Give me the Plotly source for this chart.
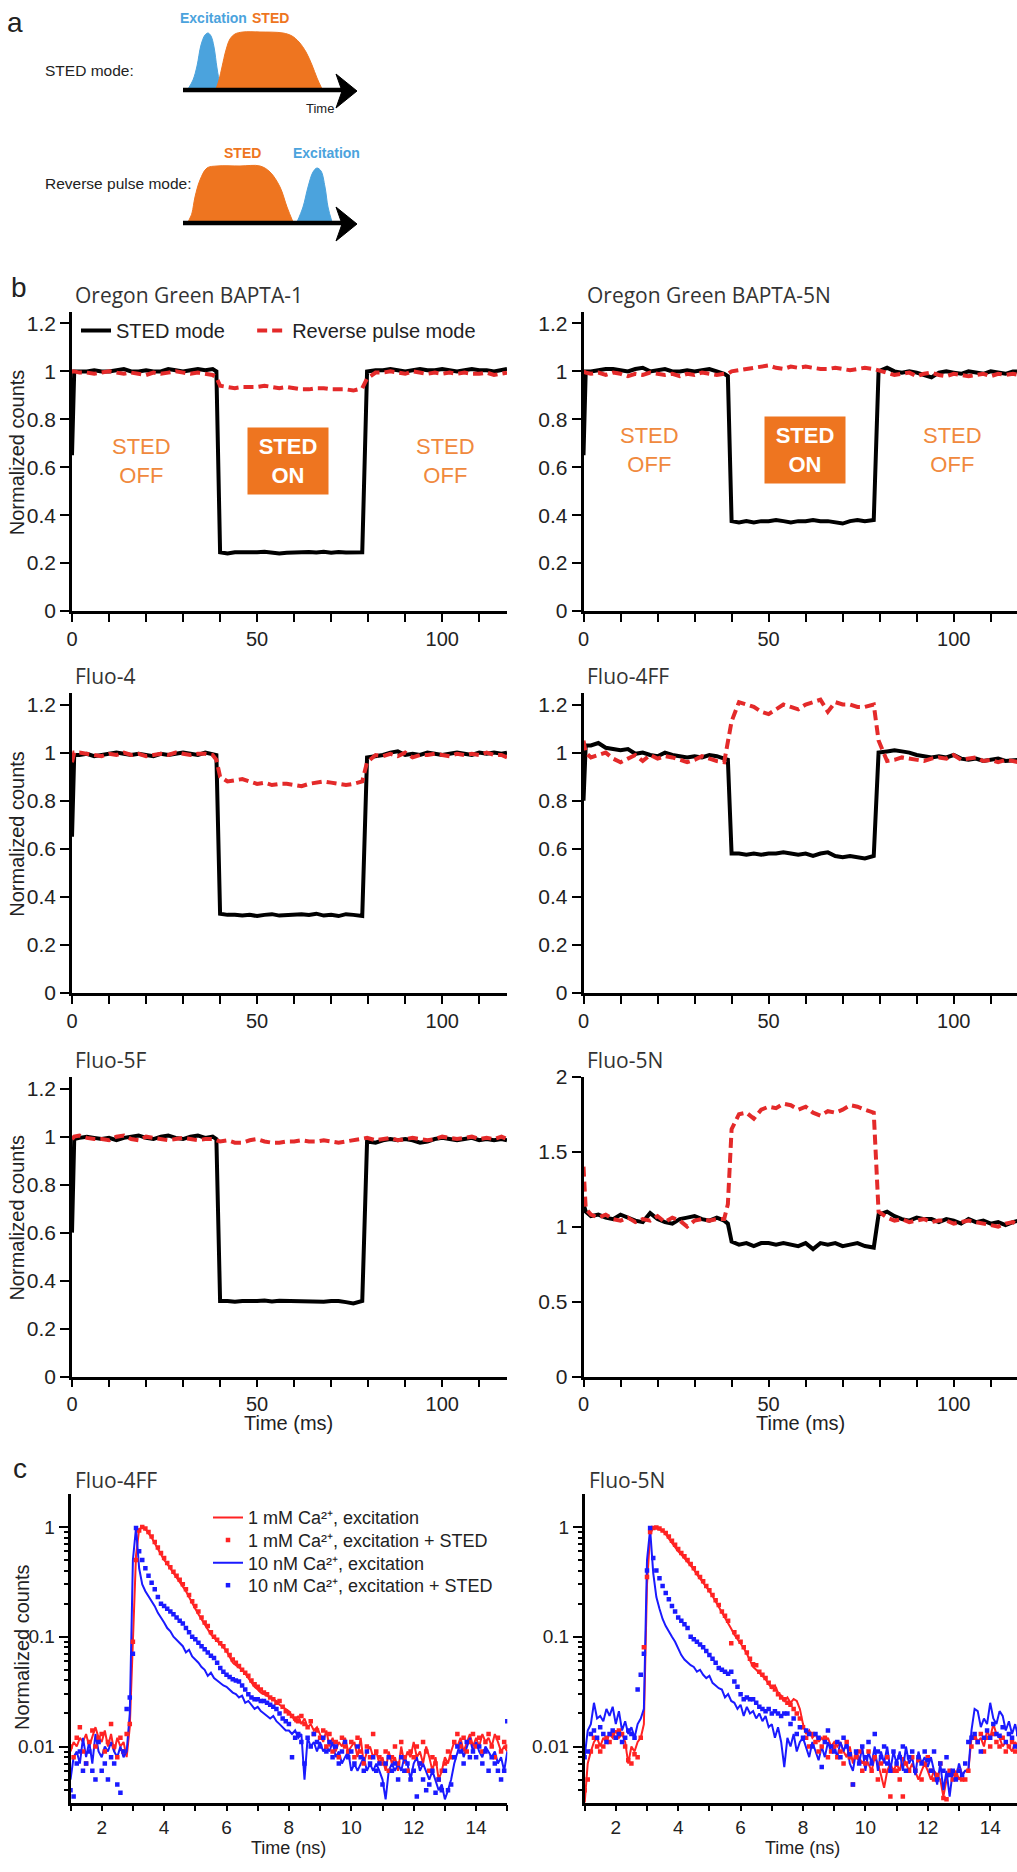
import plotly.graph_objects as go

W, H = 1017, 1872
FONT = "Liberation Sans, Arial, sans-serif"
NARROW = "Liberation Sans, Arial, sans-serif"
TITLE_FONT = "Open Sans, sans-serif"
TXT = "#222222"
BLUE_A = "#4BA3DD"
ORANGE_A = "#EE7520"
STED_OFF_C = "#F0893D"
RED_B = "#E42A2A"
RED_C = "#FF2323"
BLUE_C = "#1A1AFF"

# ---------------- panel a (schematic pulse shapes, pixel units) ----------------
EXC1_X = [188, 193, 197, 201, 205, 208, 211, 214, 217, 220, 222]
EXC1_Y = [89, 80, 66, 45, 35, 33, 36, 47, 68, 84, 89]
STED1_X = [216, 219, 222, 226, 230, 235, 243, 260, 283, 292, 299, 306, 312, 317, 322]
STED1_Y = [89, 80, 67, 50, 39, 34, 32, 32, 33, 36, 42, 52, 65, 78, 89]
STED2_X = [188, 190, 192, 195, 200, 207, 217, 240, 260, 270, 280, 287, 293]
STED2_Y = [222, 218, 213, 197, 180, 168, 166, 166, 166, 172, 187, 207, 222]
EXC2_X = [297, 303, 308, 313, 317, 321, 325, 328, 332]
EXC2_Y = [222, 207, 187, 172, 168, 171, 187, 207, 222]
ARROW1_X = [183, 343]
ARROW1_Y = [90, 90]
HEAD1_X = [336, 357, 336, 342, 336]
HEAD1_Y = [74, 91, 108, 91, 74]
ARROW2_X = [183, 343]
ARROW2_Y = [223, 223]
HEAD2_X = [336, 357, 336, 342, 336]
HEAD2_Y = [207, 224, 241, 224, 207]

# ---------------- panel b data ----------------
T_MS = [0, 0.6] + list(range(2, 39, 2)) + [39] + list(range(40, 77, 2)) + [78.4, 79.7] + list(range(82, 117, 2)) + [117.5]
MS_TICKS = list(range(0, 111, 10))
MS_LABELS = ["0", "", "", "", "", "50", "", "", "", "", "100", ""]

OGB1_STED = [0.65, 1.0, 1.0, 1.0, 1.005, 1.0, 1.0, 1.005, 1.01, 1.0, 1.0, 1.005, 1.0, 1.0, 1.01, 1.005, 1.0, 1.005, 1.01, 1.005, 1.01,
             1.0,
             0.245, 0.24, 0.245, 0.245, 0.243, 0.245, 0.247, 0.244, 0.24, 0.243, 0.245, 0.243, 0.246, 0.244, 0.247, 0.243, 0.246, 0.244, 0.245, 0.245,
             1.0, 1.005, 1.005, 1.01, 1.005, 1.0, 1.005, 1.01, 1.005, 1.005, 1.01, 1.005, 1.0, 1.005, 1.01, 1.005, 1.005, 1.0, 1.005, 1.01]
OGB1_REV = [1.0, 1.0, 0.995, 0.995, 0.99, 0.995, 1.0, 0.995, 0.99, 0.995, 0.99, 0.985, 0.995, 0.99, 0.995, 1.0, 0.995, 0.99, 0.995, 0.99, 0.985,
            0.975,
            0.94, 0.935, 0.93, 0.935, 0.935, 0.935, 0.94, 0.935, 0.93, 0.935, 0.93, 0.925, 0.925, 0.93, 0.93, 0.925, 0.925, 0.925, 0.92, 0.93,
            0.97, 0.995, 0.995, 1.0, 0.995, 0.99, 1.0, 0.995, 0.99, 0.995, 0.99, 0.995, 0.99, 0.995, 0.99, 0.99, 0.995, 0.985, 0.99, 0.995]
OGB5N_STED = [0.65, 1.0, 1.0, 1.005, 1.01, 1.01, 1.005, 1.0, 1.01, 1.015, 1.0, 1.005, 1.01, 1.0, 1.0, 1.005, 1.0, 1.005, 1.01, 1.0, 0.99,
              0.98,
              0.375, 0.37, 0.375, 0.37, 0.375, 0.375, 0.38, 0.375, 0.37, 0.375, 0.375, 0.38, 0.375, 0.375, 0.37, 0.365, 0.375, 0.38, 0.375, 0.38,
              1.0, 1.015, 1.0, 0.995, 1.0, 0.995, 0.985, 0.975, 0.995, 1.0, 0.995, 0.99, 1.0, 0.995, 0.99, 1.0, 0.995, 0.99, 1.0, 1.0]
OGB5N_REV = [1.0, 0.995, 0.99, 0.995, 0.985, 0.995, 0.99, 0.98, 0.99, 0.985, 0.995, 0.99, 0.985, 0.99, 0.98, 0.99, 0.985, 0.995, 0.99, 0.985, 0.99,
             0.99,
             1.0, 1.005, 1.01, 1.015, 1.02, 1.025, 1.015, 1.01, 1.02, 1.015, 1.02, 1.015, 1.01, 1.01, 1.015, 1.01, 1.005, 1.01, 1.015, 1.01,
             1.005, 0.995, 0.985, 0.99, 0.995, 0.98, 0.99, 0.995, 0.985, 0.98, 0.99, 0.985, 0.98, 0.985, 0.99, 0.98, 0.99, 0.985, 0.99, 0.985]
FLUO4_STED = [0.65, 0.99, 0.99, 0.995, 0.985, 0.99, 0.995, 1.0, 0.995, 0.99, 0.995, 0.99, 0.985, 0.995, 0.99, 0.995, 1.0, 0.995, 0.99, 1.0, 0.995,
              0.99,
              0.33, 0.325, 0.325, 0.322, 0.325, 0.32, 0.325, 0.328, 0.322, 0.325, 0.325, 0.328, 0.325, 0.33, 0.322, 0.325, 0.32, 0.328, 0.325, 0.32,
              0.98, 0.985, 0.99, 1.0, 1.005, 0.99, 0.995, 0.99, 1.0, 0.995, 0.99, 0.995, 1.0, 0.995, 0.99, 1.0, 0.995, 1.0, 0.995, 1.0]
FLUO4_REV = [0.96, 1.0, 1.0, 0.995, 0.99, 0.985, 0.995, 0.99, 1.0, 0.99, 0.995, 0.985, 0.99, 0.995, 0.99, 1.0, 0.995, 0.99, 0.995, 0.995, 0.99,
             0.97,
             0.9, 0.88, 0.885, 0.89, 0.88, 0.87, 0.875, 0.865, 0.87, 0.87, 0.865, 0.86, 0.87, 0.875, 0.88, 0.875, 0.87, 0.865, 0.87, 0.88,
             0.96, 0.99, 0.985, 0.995, 0.985, 1.0, 0.98, 0.99, 0.99, 0.995, 0.99, 0.985, 0.995, 0.99, 0.995, 0.99, 1.0, 0.99, 0.99, 0.98]
FLUO4FF_STED = [0.8, 1.03, 1.03, 1.04, 1.02, 1.015, 1.01, 1.015, 0.995, 1.0, 0.99, 0.985, 1.0, 0.99, 0.985, 0.98, 0.985, 0.98, 0.99, 0.985, 0.975,
                0.97,
                0.58, 0.58, 0.575, 0.58, 0.575, 0.58, 0.58, 0.585, 0.58, 0.575, 0.58, 0.57, 0.58, 0.585, 0.57, 0.565, 0.57, 0.565, 0.56, 0.57,
                1.0, 1.005, 1.01, 1.005, 1.0, 0.99, 0.985, 0.98, 0.985, 0.98, 0.99, 0.975, 0.97, 0.975, 0.965, 0.97, 0.975, 0.965, 0.97, 0.97]
FLUO4FF_REV = [1.05, 1.0, 0.98, 0.99, 1.0, 0.975, 0.96, 0.975, 0.99, 0.965, 0.99, 0.975, 0.985, 0.98, 0.97, 0.96, 0.97, 0.985, 0.975, 0.965, 0.96,
               1.05,
               1.13, 1.21, 1.2, 1.19, 1.17, 1.16, 1.18, 1.2, 1.19, 1.18, 1.2, 1.21, 1.22, 1.17, 1.21, 1.2, 1.2, 1.19, 1.19, 1.2,
               1.05, 0.965, 0.97, 0.98, 0.975, 0.97, 0.965, 0.975, 0.98, 0.975, 0.99, 0.97, 0.975, 0.98, 0.965, 0.97, 0.96, 0.97, 0.965, 0.96]
FLUO5F_STED = [0.6, 0.99, 0.995, 1.0, 0.995, 0.99, 0.995, 0.985, 0.995, 1.0, 1.005, 0.995, 0.99, 1.0, 1.005, 0.995, 0.99, 1.0, 1.005, 0.995, 1.0,
               0.99,
               0.315, 0.315, 0.312, 0.315, 0.313, 0.315, 0.317, 0.313, 0.316, 0.315, 0.317, 0.315, 0.313, 0.315, 0.312, 0.315, 0.315, 0.31, 0.305, 0.315,
               0.98, 0.975, 0.985, 0.99, 0.985, 0.99, 0.985, 0.975, 0.98, 0.99, 0.995, 0.99, 0.985, 0.99, 0.995, 0.985, 0.99, 0.985, 0.99, 0.985]
FLUO5F_REV = [0.99, 1.0, 1.005, 0.995, 0.99, 0.99, 0.985, 1.0, 1.005, 0.99, 0.985, 1.0, 0.995, 0.99, 0.985, 0.99, 0.995, 0.99, 0.985, 0.99, 0.99,
              0.985,
              0.98, 0.985, 0.975, 0.975, 0.985, 0.99, 0.98, 0.975, 0.975, 0.98, 0.98, 0.985, 0.98, 0.98, 0.985, 0.98, 0.975, 0.98, 0.985, 0.99,
              0.995, 0.985, 0.99, 0.995, 0.985, 0.99, 0.995, 0.99, 0.985, 0.99, 1.0, 0.995, 0.99, 0.995, 1.0, 0.99, 0.995, 0.99, 1.0, 0.99]
FLUO5N_STED = [1.15, 1.1, 1.07, 1.08, 1.06, 1.05, 1.08, 1.06, 1.04, 1.03, 1.09, 1.05, 1.03, 1.02, 1.05, 1.06, 1.07, 1.05, 1.04, 1.06, 1.04,
               1.02,
               0.9, 0.88, 0.89, 0.87, 0.89, 0.89, 0.88, 0.89, 0.88, 0.87, 0.89, 0.85, 0.89, 0.88, 0.89, 0.87, 0.88, 0.89, 0.87, 0.86,
               1.08, 1.1, 1.07, 1.05, 1.04, 1.06, 1.05, 1.05, 1.03, 1.05, 1.04, 1.02, 1.05, 1.03, 1.04, 1.02, 1.03, 1.01, 1.03, 1.04]
FLUO5N_REV = [1.4, 1.12, 1.08, 1.06, 1.08, 1.05, 1.04, 1.06, 1.03, 1.05, 1.04, 1.07, 1.03, 1.06, 1.04, 1.0, 1.04, 1.05, 1.04, 1.05, 1.05,
              1.15,
              1.65, 1.75, 1.76, 1.72, 1.78, 1.8, 1.79, 1.82, 1.81, 1.78, 1.8, 1.76, 1.74, 1.77, 1.76, 1.78, 1.81, 1.8, 1.78, 1.76,
              1.1, 1.06, 1.04, 1.05, 1.03, 1.04, 1.05, 1.03, 1.04, 1.04, 1.02, 1.03, 1.04, 1.03, 1.02, 1.01, 1.0, 1.02, 1.03, 1.01]

Y12_TICKS = [0, 0.2, 0.4, 0.6, 0.8, 1.0, 1.2]
Y12_LABELS = ["0", "0.2", "0.4", "0.6", "0.8", "1", "1.2"]
Y2_TICKS = [0, 0.5, 1.0, 1.5, 2.0]
Y2_LABELS = ["0", "0.5", "1", "1.5", "2"]

PANELS_B = [
    ("Oregon Green BAPTA-1", OGB1_STED, OGB1_REV, 1.25, Y12_TICKS, Y12_LABELS),
    ("Oregon Green BAPTA-5N", OGB5N_STED, OGB5N_REV, 1.25, Y12_TICKS, Y12_LABELS),
    ("Fluo-4", FLUO4_STED, FLUO4_REV, 1.25, Y12_TICKS, Y12_LABELS),
    ("Fluo-4FF", FLUO4FF_STED, FLUO4FF_REV, 1.25, Y12_TICKS, Y12_LABELS),
    ("Fluo-5F", FLUO5F_STED, FLUO5F_REV, 1.25, Y12_TICKS, Y12_LABELS),
    ("Fluo-5N", FLUO5N_STED, FLUO5N_REV, 2.0, Y2_TICKS, Y2_LABELS),
]
LEGEND_B = ["STED mode\u00a0\u00a0\u00a0\u00a0", "Reverse pulse mode"]

# ---------------- panel c data (0.1 ns bins) ----------------
T_NS = [round(1 + 0.1 * i, 1) for i in range(141)]
NS_TICKS = [2, 4, 6, 8, 10, 12, 14]
NS_MINOR = [1, 3, 5, 7, 9, 11, 13, 15]
LOG_TICKS = [0.01, 0.1, 1]
LOG_LABELS = ["0.01", "0.1", "1"]
LOG_MINOR = [0.004, 0.005, 0.006, 0.007, 0.008, 0.009,
             0.02, 0.03, 0.04, 0.05, 0.06, 0.07, 0.08, 0.09,
             0.2, 0.3, 0.4, 0.5, 0.6, 0.7, 0.8, 0.9]

F4FF_CA_EXC = [0.009, 0.011, 0.010, 0.012, 0.011, 0.013, 0.010, 0.012, 0.015, 0.012,
               0.011, 0.014, 0.010, 0.013, 0.009, 0.012, 0.010, 0.011, 0.008, 0.015,
               0.10, 0.55, 0.95, 1.0, 0.96, 0.88, 0.80, 0.71, 0.63, 0.56,
               0.50, 0.46, 0.42, 0.38, 0.35, 0.32, 0.29, 0.26, 0.23, 0.20,
               0.18, 0.16, 0.145, 0.13, 0.118, 0.105, 0.098, 0.092, 0.085, 0.08,
               0.074, 0.066, 0.058, 0.055, 0.052, 0.05, 0.046, 0.042, 0.039, 0.035,
               0.033, 0.031, 0.030, 0.029, 0.028, 0.027, 0.026, 0.024, 0.023, 0.022,
               0.021, 0.019, 0.017, 0.019, 0.016, 0.018, 0.015, 0.016, 0.014, 0.015,
               0.013, 0.011, 0.014, 0.010, 0.012, 0.009, 0.011, 0.010, 0.012, 0.009,
               0.010, 0.011, 0.008, 0.012, 0.007, 0.009, 0.010, 0.008, 0.009, 0.007,
               0.008, 0.006, 0.009, 0.007, 0.008, 0.006, 0.010, 0.007, 0.009, 0.008,
               0.011, 0.008, 0.009, 0.007, 0.010, 0.008, 0.006, 0.008, 0.005, 0.006,
               0.008, 0.007, 0.009, 0.011, 0.010, 0.012, 0.009, 0.011, 0.013, 0.010,
               0.012, 0.010, 0.013, 0.011, 0.012, 0.010, 0.013, 0.011, 0.009, 0.010,
               0.009]
F4FF_CA_STED = [0.010, 0.008, 0.012, 0.015, 0.009, 0.007, 0.011, 0.014, 0.010, 0.012,
                0.013, 0.009, 0.011, 0.016, 0.010, 0.008, 0.012, 0.009, 0.013, 0.016,
                0.09, 0.5, 0.93, 1.0, 0.97, 0.90, 0.82, 0.73, 0.65, 0.58,
                0.52, 0.47, 0.43, 0.39, 0.36, 0.33, 0.30, 0.27, 0.24, 0.21,
                0.19, 0.17, 0.15, 0.135, 0.125, 0.11, 0.10, 0.094, 0.087, 0.082,
                0.075, 0.068, 0.062, 0.058, 0.054, 0.05, 0.047, 0.044, 0.040, 0.037,
                0.035, 0.033, 0.031, 0.030, 0.028, 0.027, 0.025, 0.026, 0.023, 0.021,
                0.020, 0.019, 0.018, 0.017, 0.019, 0.016, 0.015, 0.017, 0.013, 0.014,
                0.012, 0.014, 0.010, 0.013, 0.009, 0.011, 0.008, 0.012, 0.010, 0.009,
                0.011, 0.008, 0.012, 0.009, 0.007, 0.010, 0.008, 0.013, 0.009, 0.008,
                0.007, 0.009, 0.006, 0.008, 0.010, 0.007, 0.011, 0.008, 0.006, 0.009,
                0.008, 0.010, 0.007, 0.011, 0.009, 0.006, 0.008, 0.007, 0.005, 0.006,
                0.007, 0.009, 0.008, 0.011, 0.013, 0.010, 0.012, 0.009, 0.011, 0.013,
                0.010, 0.012, 0.009, 0.011, 0.013, 0.010, 0.008, 0.012, 0.009, 0.011,
                0.010]
F4FF_LOW_EXC = [0.005, 0.008, 0.009, 0.007, 0.012, 0.008, 0.011, 0.007, 0.013, 0.009,
                0.008, 0.010, 0.009, 0.011, 0.009, 0.008, 0.010, 0.008, 0.009, 0.02,
                0.5, 0.98, 0.42, 0.30, 0.26, 0.235, 0.21, 0.19, 0.165, 0.15,
                0.135, 0.12, 0.112, 0.10, 0.094, 0.088, 0.082, 0.072, 0.076, 0.066,
                0.062, 0.058, 0.053, 0.05, 0.044, 0.047, 0.042, 0.04, 0.038, 0.036,
                0.035, 0.033, 0.031, 0.03, 0.028, 0.029, 0.025, 0.026, 0.024, 0.022,
                0.023, 0.021, 0.02, 0.019, 0.018, 0.019, 0.017, 0.016, 0.015, 0.014,
                0.014, 0.013, 0.014, 0.012, 0.013, 0.005, 0.012, 0.010, 0.011, 0.009,
                0.011, 0.009, 0.010, 0.009, 0.011, 0.008, 0.009, 0.007, 0.008, 0.009,
                0.006, 0.007, 0.006, 0.007, 0.008, 0.006, 0.007, 0.006, 0.007, 0.006,
                0.005, 0.0033, 0.006, 0.007, 0.006, 0.007, 0.006, 0.008, 0.007, 0.005,
                0.007, 0.008, 0.006, 0.007, 0.006, 0.005, 0.006, 0.005, 0.004, 0.0045,
                0.0033, 0.004, 0.005, 0.007, 0.009, 0.011, 0.008, 0.010, 0.012, 0.009,
                0.011, 0.009, 0.008, 0.010, 0.009, 0.008, 0.009, 0.007, 0.008, 0.006,
                0.009]
F4FF_LOW_STED = [0.004, 0.0035, 0.007, 0.009, 0.006, 0.007, 0.009, 0.006, 0.005, 0.011,
                 0.006, 0.007, 0.005, 0.008, 0.007, 0.0045, 0.0038, 0.009, 0.022, 0.028,
                 0.07, 0.98, 0.6, 0.5, 0.42, 0.36, 0.31, 0.27, 0.23, 0.20,
                 0.19, 0.18, 0.17, 0.16, 0.15, 0.14, 0.132, 0.12, 0.11, 0.10,
                 0.095, 0.088, 0.082, 0.077, 0.072, 0.067, 0.064, 0.058, 0.052, 0.048,
                 0.045, 0.043, 0.041, 0.040, 0.039, 0.036, 0.033, 0.030, 0.028, 0.027,
                 0.027, 0.026, 0.026, 0.025, 0.024, 0.023, 0.022, 0.020, 0.018, 0.017,
                 0.016, 0.008, 0.012, 0.013, 0.011, 0.007, 0.012, 0.010, 0.013, 0.011,
                 0.010, 0.012, 0.009, 0.011, 0.008, 0.010, 0.007, 0.009, 0.011, 0.008,
                 0.009, 0.007, 0.010, 0.008, 0.006, 0.009, 0.007, 0.008, 0.006, 0.007,
                 0.0045, 0.007, 0.008, 0.006, 0.007, 0.005, 0.008, 0.006, 0.007, 0.005,
                 0.006, 0.0035, 0.007, 0.005, 0.004, 0.0045, 0.006, 0.0038, 0.005, 0.004,
                 0.006, 0.004, 0.0045, 0.008, 0.010, 0.009, 0.007, 0.011, 0.008, 0.009,
                 0.008, 0.010, 0.007, 0.009, 0.006, 0.008, 0.007, 0.006, 0.005, 0.006,
                 0.017]

F5N_CA_EXC = [0.003, 0.007, 0.009, 0.011, 0.012, 0.010, 0.012, 0.011, 0.013, 0.012,
              0.014, 0.012, 0.013, 0.011, 0.007, 0.010, 0.009, 0.011, 0.012, 0.016,
              0.3, 0.85, 1.0, 0.98, 0.95, 0.92, 0.86, 0.78, 0.71, 0.65,
              0.60, 0.56, 0.52, 0.48, 0.45, 0.41, 0.37, 0.34, 0.31, 0.29,
              0.26, 0.235, 0.21, 0.19, 0.165, 0.15, 0.135, 0.118, 0.104, 0.095,
              0.087, 0.079, 0.07, 0.06, 0.053, 0.05, 0.047, 0.044, 0.041, 0.037,
              0.034, 0.036, 0.031, 0.029, 0.026, 0.028, 0.025, 0.027, 0.026, 0.022,
              0.016, 0.013, 0.014, 0.012, 0.013, 0.011, 0.012, 0.011, 0.012, 0.010,
              0.011, 0.010, 0.011, 0.009, 0.008, 0.010, 0.007, 0.009, 0.008, 0.007,
              0.008, 0.007, 0.006, 0.008, 0.007, 0.0055, 0.0042, 0.006, 0.007, 0.006,
              0.007, 0.006, 0.008, 0.007, 0.006, 0.007, 0.006, 0.005, 0.006, 0.007,
              0.006, 0.005, 0.006, 0.0055, 0.005, 0.0035, 0.005, 0.006, 0.0055, 0.006,
              0.005, 0.0055, 0.006, 0.006, 0.012, 0.013, 0.011, 0.012, 0.010, 0.014,
              0.012, 0.016, 0.013, 0.012, 0.010, 0.011, 0.010, 0.009, 0.011, 0.010,
              0.010]
F5N_CA_STED = [0.004, 0.005, 0.009, 0.012, 0.010, 0.009, 0.010, 0.012, 0.011, 0.013,
               0.012, 0.014, 0.013, 0.010, 0.0075, 0.007, 0.0085, 0.008, 0.012, 0.08,
               0.35, 0.9, 0.98, 0.99, 0.97, 0.93, 0.88, 0.82, 0.75, 0.69,
               0.63, 0.58, 0.54, 0.50, 0.46, 0.42, 0.38, 0.35, 0.32, 0.29,
               0.265, 0.24, 0.215, 0.195, 0.17, 0.155, 0.14, 0.087, 0.11, 0.1,
               0.09, 0.08, 0.072, 0.063, 0.056, 0.055, 0.048, 0.045, 0.042, 0.038,
               0.035, 0.033, 0.03, 0.028, 0.027, 0.025, 0.024, 0.022, 0.020, 0.018,
               0.015, 0.012, 0.010, 0.013, 0.011, 0.009, 0.010, 0.012, 0.008, 0.009,
               0.010, 0.008, 0.009, 0.007, 0.011, 0.008, 0.0045, 0.008, 0.009, 0.006,
               0.007, 0.009, 0.006, 0.008, 0.005, 0.007, 0.006, 0.008, 0.0035, 0.006,
               0.006, 0.005, 0.0035, 0.007, 0.006, 0.008, 0.006, 0.0075, 0.005, 0.007,
               0.008, 0.006, 0.005, 0.0055, 0.007, 0.0034, 0.0033, 0.006, 0.005, 0.0055,
               0.006, 0.005, 0.005, 0.006, 0.010, 0.012, 0.011, 0.013, 0.009, 0.012,
               0.010, 0.013, 0.011, 0.010, 0.012, 0.009, 0.010, 0.011, 0.009, 0.010,
               0.011]
F5N_LOW_EXC = [0.008, 0.014, 0.016, 0.025, 0.018, 0.019, 0.017, 0.022, 0.019, 0.023,
               0.016, 0.021, 0.014, 0.017, 0.013, 0.015, 0.012, 0.016, 0.018, 0.022,
               0.5, 0.95, 0.38, 0.23, 0.18, 0.145, 0.125, 0.11, 0.10, 0.09,
               0.077, 0.068, 0.062, 0.058, 0.055, 0.053, 0.048, 0.05, 0.045, 0.042,
               0.044, 0.038, 0.036, 0.034, 0.033, 0.028, 0.03, 0.026, 0.025, 0.022,
               0.024, 0.019, 0.023, 0.02, 0.021, 0.018, 0.02, 0.017, 0.019, 0.015,
               0.016, 0.012, 0.015, 0.011, 0.0065, 0.012, 0.010, 0.013, 0.009, 0.011,
               0.012, 0.010, 0.008, 0.011, 0.009, 0.0075, 0.010, 0.008, 0.011, 0.009,
               0.010, 0.008, 0.011, 0.009, 0.011, 0.007, 0.006, 0.009, 0.007, 0.010,
               0.006, 0.009, 0.007, 0.010, 0.006, 0.009, 0.007, 0.010, 0.006, 0.009,
               0.007, 0.009, 0.006, 0.010, 0.007, 0.008, 0.0055, 0.009, 0.007, 0.008,
               0.0065, 0.008, 0.006, 0.0045, 0.007, 0.004, 0.006, 0.0035, 0.006, 0.005,
               0.007, 0.0055, 0.006, 0.006, 0.014, 0.022, 0.021, 0.015, 0.018, 0.016,
               0.025, 0.018, 0.016, 0.021, 0.019, 0.014, 0.017, 0.013, 0.016, 0.012,
               0.014]
F5N_LOW_STED = [0.008, 0.009, 0.013, 0.014, 0.012, 0.015, 0.013, 0.011, 0.013, 0.014,
                0.012, 0.013, 0.011, 0.012, 0.014, 0.013, 0.012, 0.033, 0.045, 0.07,
                0.4, 0.98, 0.52, 0.40, 0.34, 0.29, 0.25, 0.22, 0.19, 0.17,
                0.15, 0.14, 0.13, 0.12, 0.10, 0.095, 0.09, 0.085, 0.08, 0.074,
                0.068, 0.063, 0.058, 0.052, 0.05, 0.048, 0.046, 0.048, 0.039, 0.035,
                0.03, 0.027, 0.028, 0.027, 0.027, 0.025, 0.023, 0.022, 0.021, 0.022,
                0.020, 0.021, 0.020, 0.019, 0.020, 0.020, 0.016, 0.018, 0.013, 0.015,
                0.012, 0.014, 0.013, 0.010, 0.013, 0.012, 0.0065, 0.011, 0.014, 0.010,
                0.009, 0.011, 0.008, 0.012, 0.010, 0.0085, 0.0045, 0.009, 0.007, 0.010,
                0.008, 0.011, 0.007, 0.013, 0.009, 0.008, 0.010, 0.007, 0.006, 0.009,
                0.007, 0.008, 0.010, 0.006, 0.008, 0.009, 0.006, 0.008, 0.007, 0.009,
                0.0075, 0.006, 0.009, 0.005, 0.007, 0.006, 0.008, 0.0055, 0.006, 0.005,
                0.006, 0.0055, 0.007, 0.011, 0.012, 0.013, 0.011, 0.009, 0.012, 0.014,
                0.012, 0.016, 0.013, 0.0125, 0.015, 0.011, 0.013, 0.012, 0.01, 0.013,
                0.012]

PANELS_C = [
    ("Fluo-4FF", F4FF_CA_EXC, F4FF_CA_STED, F4FF_LOW_EXC, F4FF_LOW_STED),
    ("Fluo-5N", F5N_CA_EXC, F5N_CA_STED, F5N_LOW_EXC, F5N_LOW_STED),
]
LEGEND_C = ["1 mM Ca\u00b2\u207a, excitation",
            "1 mM Ca\u00b2\u207a, excitation + STED",
            "10 nM Ca\u00b2\u207a, excitation",
            "10 nM Ca\u00b2\u207a, excitation + STED"]

for arr in [p[1] for p in PANELS_B] + [p[2] for p in PANELS_B]:
    assert len(arr) == len(T_MS), len(arr)
for p in PANELS_C:
    for arr in p[1:]:
        assert len(arr) == len(T_NS), len(arr)

# ---------------- layout geometry (pixels) ----------------
L_DOM = (72, 507)
R_DOM = (583.5, 1017)
ROWS_B = [(311.5, 611), (692.5, 993), (1076.7, 1376.5)]
TITLE_Y_B = [295, 676, 1060]
C_TOP, C_BOT = 1494, 1802.5
L_DOM_C = (70.5, 507.3)
R_DOM_C = (584.6, 1017)
LEG_C_ROWS = [1516.7, 1539.3, 1562.0, 1584.5]


def xdom(a, b):
    return [a / W, b / W]


def ydom(top, bot):
    return [1 - bot / H, 1 - top / H]


fig = go.Figure()
layout = dict(width=W, height=H, margin=dict(l=0, r=0, t=0, b=0, pad=0, autoexpand=False),
              paper_bgcolor="white", plot_bgcolor="white", showlegend=True)
annotations = []

axis_common = dict(showline=True, linecolor="black", linewidth=2.5, ticks="outside",
                   tickcolor="black", tickwidth=2, showgrid=False, zeroline=False,
                   fixedrange=True, tickfont=dict(family=FONT, size=21, color=TXT))


def ann(text, x, y, xref="paper", yref="paper", size=20, color=TXT, family=FONT,
        xanchor="center", yanchor="middle", **kw):
    if xref == "paper":
        x = x / W
    if yref == "paper":
        y = 1 - y / H
    d = dict(text=text, x=x, y=y, xref=xref, yref=yref, showarrow=False,
             xanchor=xanchor, yanchor=yanchor,
             font=dict(family=family, size=size, color=color))
    d.update(kw)
    annotations.append(d)


# ---------------- panel b ----------------
for k, (name, sted, rev, ymax, ytv, ytt) in enumerate(PANELS_B):
    i = k + 1
    col, row = k % 2, k // 2
    dom = L_DOM if col == 0 else R_DOM
    top, bot = ROWS_B[row]
    xr = 117.5 if col == 0 else (dom[1] - dom[0]) / (435 / 117.5)
    layout[f"xaxis{i}"] = dict(axis_common, domain=xdom(*dom), anchor=f"y{i}", range=[0, xr],
                               tickmode="array", tickvals=MS_TICKS, ticktext=MS_LABELS, ticklen=8,
                               tickfont=dict(family=FONT, size=20, color=TXT))
    layout[f"yaxis{i}"] = dict(axis_common, domain=ydom(top, bot), anchor=f"x{i}", range=[0, ymax],
                               tickmode="array", tickvals=ytv, ticktext=ytt, ticklen=9)
    fig.add_trace(go.Scatter(x=T_MS, y=sted, mode="lines", name=LEGEND_B[0],
                             line=dict(color="black", width=4), xaxis=f"x{i}", yaxis=f"y{i}",
                             showlegend=(k == 0), legend="legend"))
    fig.add_trace(go.Scatter(x=T_MS, y=rev, mode="lines", name=LEGEND_B[1],
                             line=dict(color=RED_B, width=4, dash="10px,5px"), xaxis=f"x{i}", yaxis=f"y{i}",
                             showlegend=(k == 0), legend="legend"))
    ann(name, dom[0] + 1, TITLE_Y_B[row], size=21, family=TITLE_FONT, color="#333333", xanchor="left")
    if col == 0:
        ann("Normalized counts", 17, (top + bot) / 2 - 9, size=20, textangle=-90)
    if row == 2:
        ann("Time (ms)", 288 if col == 0 else 800, 1423, size=20)

# STED OFF / ON labels
STED_LABEL_POS = [  # (axis index, left x, box x, right x, y)
    (1, 18.9, 58.4, 101.0, 0.625),
    (2, 17.8, 59.7, 99.7, 0.672),
]
for i, xl, xb, xrr, yy in STED_LABEL_POS:
    for xx in (xl, xrr):
        ann("STED<br>OFF", xx, yy, xref=f"x{i}", yref=f"y{i}", size=22, color=STED_OFF_C)
    ann("<b>STED<br>ON</b>", xb, yy, xref=f"x{i}", yref=f"y{i}", size=22, color="white",
        bgcolor=ORANGE_A, width=80, height=66, borderpad=0)

layout["legend"] = dict(orientation="h", x=76 / W, y=1 - 311 / H, xanchor="left", yanchor="top",
                        font=dict(family=FONT, size=20, color=TXT), bgcolor="rgba(0,0,0,0)",
                        itemwidth=30, tracegroupgap=0)

# ---------------- panel c ----------------
for k, (name, ca_exc, ca_sted, low_exc, low_sted) in enumerate(PANELS_C):
    i = 7 + k
    dom = L_DOM_C if k == 0 else R_DOM_C
    xr = 15 if k == 0 else 1 + (dom[1] - dom[0]) / 31.2
    layout[f"xaxis{i}"] = dict(axis_common, domain=xdom(*dom), anchor=f"y{i}", range=[1, xr],
                               tickmode="array", tickvals=NS_TICKS, ticklen=6,
                               tickfont=dict(family=FONT, size=19, color=TXT),
                               minor=dict(tickmode="array", tickvals=NS_MINOR, ticklen=6, tickwidth=2,
                                          tickcolor="black", ticks="outside"))
    layout[f"yaxis{i}"] = dict(axis_common, domain=ydom(C_TOP, C_BOT), anchor=f"x{i}", type="log",
                               range=[-2.51, 0.3], tickmode="array", tickvals=LOG_TICKS, ticktext=LOG_LABELS,
                               ticklen=9, tickfont=dict(family=FONT, size=19, color=TXT),
                               minor=dict(tickmode="array", tickvals=LOG_MINOR, ticklen=4, tickwidth=1.5,
                                          tickcolor="black", ticks="outside"))
    sl = (k == 0)
    common = dict(x=T_NS, xaxis=f"x{i}", yaxis=f"y{i}")
    fig.add_trace(go.Scatter(y=ca_exc, mode="lines", name=LEGEND_C[0], showlegend=sl, legend="legend2",
                             line=dict(color=RED_C, width=2), **common))
    fig.add_trace(go.Scatter(y=low_exc, mode="lines", name=LEGEND_C[2], showlegend=sl, legend="legend4",
                             line=dict(color=BLUE_C, width=2), **common))
    fig.add_trace(go.Scatter(y=ca_sted, mode="markers", name=LEGEND_C[1], showlegend=sl, legend="legend3",
                             marker=dict(color=RED_C, size=4.5, symbol="square"), **common))
    fig.add_trace(go.Scatter(y=low_sted, mode="markers", name=LEGEND_C[3], showlegend=sl, legend="legend5",
                             marker=dict(color=BLUE_C, size=4.5, symbol="square"), **common))
    ann(name, dom[0] + 2.5, 1480, size=21, family=TITLE_FONT, color="#333333", xanchor="left")
    ann("Time (ns)", 288 if k == 0 else 802, 1848, size=18)

ann("Normalized counts", 22, 1647, size=20, textangle=-90)

for j, yc in enumerate(LEG_C_ROWS):
    layout[f"legend{j + 2}"] = dict(orientation="v", x=208 / W, y=1 - (yc - 17.5) / H,
                                    xanchor="left", yanchor="top",
                                    font=dict(family=FONT, size=18, color=TXT), bgcolor="rgba(0,0,0,0)",
                                    itemwidth=30, tracegroupgap=0)

# ---------------- panel a ----------------
layout["xaxis9"] = dict(domain=[0, 1], range=[0, W], visible=False, fixedrange=True, anchor="y9")
layout["yaxis9"] = dict(domain=[1 - 245 / H, 1], range=[245, 0], visible=False, fixedrange=True, anchor="x9")
a_common = dict(xaxis="x9", yaxis="y9", showlegend=False, hoverinfo="skip")
fig.add_trace(go.Scatter(x=EXC1_X, y=EXC1_Y, fill="toself", fillcolor=BLUE_A, mode="lines",
                         line=dict(color=BLUE_A, width=1, shape="spline"), **a_common))
fig.add_trace(go.Scatter(x=STED1_X, y=STED1_Y, fill="toself", fillcolor=ORANGE_A, mode="lines",
                         line=dict(color=ORANGE_A, width=1, shape="spline"), **a_common))
fig.add_trace(go.Scatter(x=STED2_X, y=STED2_Y, fill="toself", fillcolor=ORANGE_A, mode="lines",
                         line=dict(color=ORANGE_A, width=1, shape="spline"), **a_common))
fig.add_trace(go.Scatter(x=EXC2_X, y=EXC2_Y, fill="toself", fillcolor=BLUE_A, mode="lines",
                         line=dict(color=BLUE_A, width=1, shape="spline"), **a_common))
for ax_, ay_, hx_, hy_ in [(ARROW1_X, ARROW1_Y, HEAD1_X, HEAD1_Y), (ARROW2_X, ARROW2_Y, HEAD2_X, HEAD2_Y)]:
    fig.add_trace(go.Scatter(x=ax_, y=ay_, mode="lines", line=dict(color="black", width=4.5), **a_common))
    fig.add_trace(go.Scatter(x=hx_, y=hy_, mode="lines", fill="toself", fillcolor="black",
                             line=dict(color="black", width=1), **a_common))

ann("<b>Excitation</b>", 213, 18, xref="x9", yref="y9", size=14, color=BLUE_A, family=NARROW)
ann("<b>STED</b>", 270, 18, xref="x9", yref="y9", size=14, color=ORANGE_A, family=NARROW)
ann("<b>STED</b>", 242, 153, xref="x9", yref="y9", size=14, color=ORANGE_A, family=NARROW)
ann("<b>Excitation</b>", 326, 153, xref="x9", yref="y9", size=14, color=BLUE_A, family=NARROW)
ann("STED mode:", 43, 70, xref="x9", yref="y9", size=15.5, family=NARROW, xanchor="left")
ann("Reverse pulse mode:", 43, 183, xref="x9", yref="y9", size=15.5, family=NARROW, xanchor="left")
ann("Time", 320, 108, xref="x9", yref="y9", size=13, family=NARROW)

# panel letters
ann("a", 5, 23, size=28, xanchor="left")
ann("b", 9, 287, size=28, xanchor="left")
ann("c", 11, 1468, size=28, xanchor="left")

layout["annotations"] = annotations
fig.update_layout(**layout)
fig.write_html("out.html")
